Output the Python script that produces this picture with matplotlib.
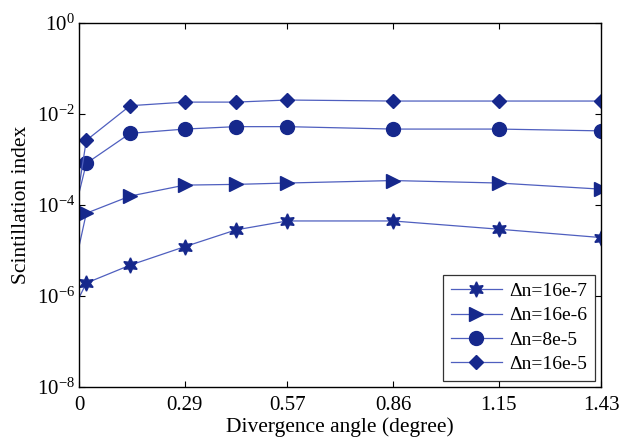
import matplotlib
matplotlib.use('Agg')
import matplotlib.pyplot as plt
import numpy as np

plt.rcParams['font.family'] = ['Liberation Serif', 'DejaVu Serif']
plt.rcParams['mathtext.fontset'] = 'stix'

# divergence angle (degree), first point at 0 has no marker
angle = [0, 0.02, 0.14, 0.29, 0.43, 0.57, 0.86, 1.15, 1.43]

si_16e7 = [9e-7, 1.9e-6, 4.7e-6, 1.2e-5, 2.8e-5, 4.4e-5, 4.4e-5, 2.9e-5, 1.9e-5]
si_16e6 = [1.2e-5, 6.5e-5, 1.55e-4, 2.7e-4, 2.8e-4, 3.0e-4, 3.4e-4, 3.0e-4, 2.2e-4]
si_8e5 = [1.8e-4, 8.1e-4, 3.7e-3, 4.6e-3, 5.2e-3, 5.2e-3, 4.6e-3, 4.6e-3, 4.2e-3]
si_16e5 = [2.4e-4, 2.6e-3, 1.5e-2, 1.8e-2, 1.8e-2, 2.0e-2, 1.9e-2, 1.9e-2, 1.9e-2]

labels = ['Δn=16e-7', 'Δn=16e-6', 'Δn=8e-5', 'Δn=16e-5']
xticks = [0, 0.29, 0.57, 0.86, 1.15, 1.43]
xticklabels = ['0', '0.29', '0.57', '0.86', '1.15', '1.43']

line_col = '#4f5fbf'
mark_col = '#16288c'

fig = plt.figure(figsize=(6.34, 4.41), dpi=100)
ax = fig.add_axes([0.1246, 0.123, 0.8234, 0.8255])

series = [si_16e7, si_16e6, si_8e5, si_16e5]
markers = [(6, 1, 0), '>', 'o', 'D']
msizes = [11, 9.5, 10, 7.5]
for ys, lab, mk, ms in zip(series, labels, markers, msizes):
    ax.plot(angle, ys, color=line_col, lw=0.9, marker=mk, ms=ms,
            markerfacecolor=mark_col, markeredgecolor=mark_col,
            markevery=list(range(1, len(angle))), label=lab)

ax.set_yscale('log')
ax.set_ylim(1e-8, 1e0)
ax.set_xlim(0, 1.43)
ax.set_yticks([1e-8, 1e-6, 1e-4, 1e-2, 1e0])
ax.yaxis.set_minor_locator(matplotlib.ticker.NullLocator())
ax.set_xticks(xticks)
ax.set_xticklabels(xticklabels)

ax.tick_params(direction='in', top=True, right=True, labelsize=15, length=4, width=0.8)
ax.tick_params(axis='x', pad=7)
ax.tick_params(axis='y', pad=3)
for sp in ax.spines.values():
    sp.set_linewidth(1.0)

ax.set_xlabel('Divergence angle (degree)', fontsize=15.5, labelpad=1)
ax.set_ylabel('Scintillation index', fontsize=15.5, labelpad=4)

leg = ax.legend(loc='lower right', fontsize=14, frameon=True, fancybox=False,
                edgecolor='black', borderaxespad=0.3, handlelength=2.6,
                labelspacing=0.35, borderpad=0.4, handletextpad=0.4)
leg.get_frame().set_linewidth(0.9)

fig.savefig('out.png', dpi=100)
